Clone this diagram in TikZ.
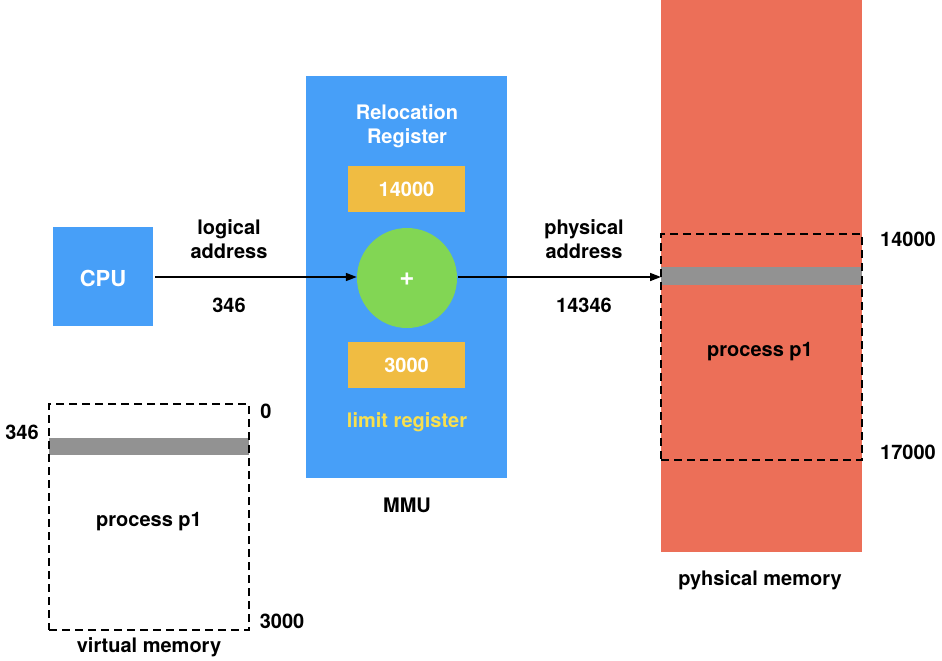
\documentclass[tikz,border=0pt]{standalone}
\usepackage{fontspec}
\setmainfont{TeX Gyre Heros}
\usetikzlibrary{arrows.meta}
\definecolor{mblue}{HTML}{479FF8}
\definecolor{myellow}{HTML}{F0BC42}
\definecolor{mgreen}{HTML}{82D654}
\definecolor{mred}{HTML}{EC6F58}
\definecolor{mgray}{HTML}{929292}
\definecolor{ltext}{HTML}{F8E04E}
\tikzset{
  box/.style={draw=none,inner sep=0pt,outer sep=0pt,anchor=north west},
  lbl/.style={font=\fontsize{20}{24}\selectfont\bfseries,align=center,inner sep=0pt,text depth=0pt},
  wlbl/.style={lbl,text=white},
  dbox/.style={draw=black,line width=1.6pt,dash pattern=on 8pt off 5pt},
  conn/.style={line width=1.6pt,-{Triangle[length=11pt,width=8pt]}},
}
\begin{document}
\begin{tikzpicture}[x=1pt,y=-1pt]
\useasboundingbox (0,0) rectangle (942,661);
% CPU
\node[box,fill=mblue,minimum width=100pt,minimum height=99pt] (cpu) at (53,227) {};
\node[wlbl,font=\fontsize{22}{26}\selectfont\bfseries] (cputxt) at (103,278) {CPU};
% MMU
\node[box,fill=mblue,minimum width=201pt,minimum height=402pt] (mmu) at (306,76) {};
\node[wlbl] (reloc) at (407,124) {Relocation\\Register};
\node[box,fill=myellow,minimum width=117pt,minimum height=46pt] (r14000) at (348,166) {};
\node[wlbl] (r14000t) at (406.5,189) {14000};
\node[circle,fill=mgreen,minimum size=100pt,inner sep=0pt] (plus) at (407,278) {};
\node[wlbl,font=\fontsize{26}{28}\selectfont\bfseries] (plust) at (407,279) {+};
\node[box,fill=myellow,minimum width=117pt,minimum height=46pt] (r3000) at (348,342) {};
\node[wlbl] (r3000t) at (406.5,365) {3000};
\node[lbl,text=ltext] (limit) at (407,420) {limit register};
\node[lbl] (mmut) at (407,505) {MMU};
% physical memory
\node[box,fill=mred,minimum width=201pt,minimum height=552pt] (phys) at (661,0) {};
\node[box,fill=mgray,minimum width=201pt,minimum height=18pt] (pbar) at (661,267) {};
\node[box,dbox,minimum width=201pt,minimum height=226pt] (pdash) at (661,234) {};
\node[lbl] (pp1) at (760,349) {process p1};
\node[lbl] (p14000) at (908,239) {14000};
\node[lbl] (p17000) at (908,452) {17000};
\node[lbl] (physt) at (760,578) {pyhsical memory};
% virtual memory
\node[box,fill=mgray,minimum width=200pt,minimum height=17pt] (vbar) at (49,438) {};
\node[box,dbox,minimum width=200pt,minimum height=226pt] (vdash) at (49,404) {};
\node[lbl] (vp1) at (149,519) {process p1};
\node[lbl] (v0) at (266,411) {0};
\node[lbl] (v346) at (22,432) {346};
\node[lbl] (v3000) at (282,621) {3000};
\node[lbl] (virt) at (149,645) {virtual memory};
% connectors
\coordinate (a1) at (155,277);
\coordinate (b1) at (458,277);
\draw[conn] (a1) -- (plus.west |- a1);
\draw[conn] (b1) -- (pdash.west |- b1);
\node[lbl] (logt) at (229,239) {logical\\address};
\node[lbl] (l346) at (229,305) {346};
\node[lbl] (phyt) at (584,239) {physical\\address};
\node[lbl] (p14346) at (584,305) {14346};
\end{tikzpicture}
\end{document}
